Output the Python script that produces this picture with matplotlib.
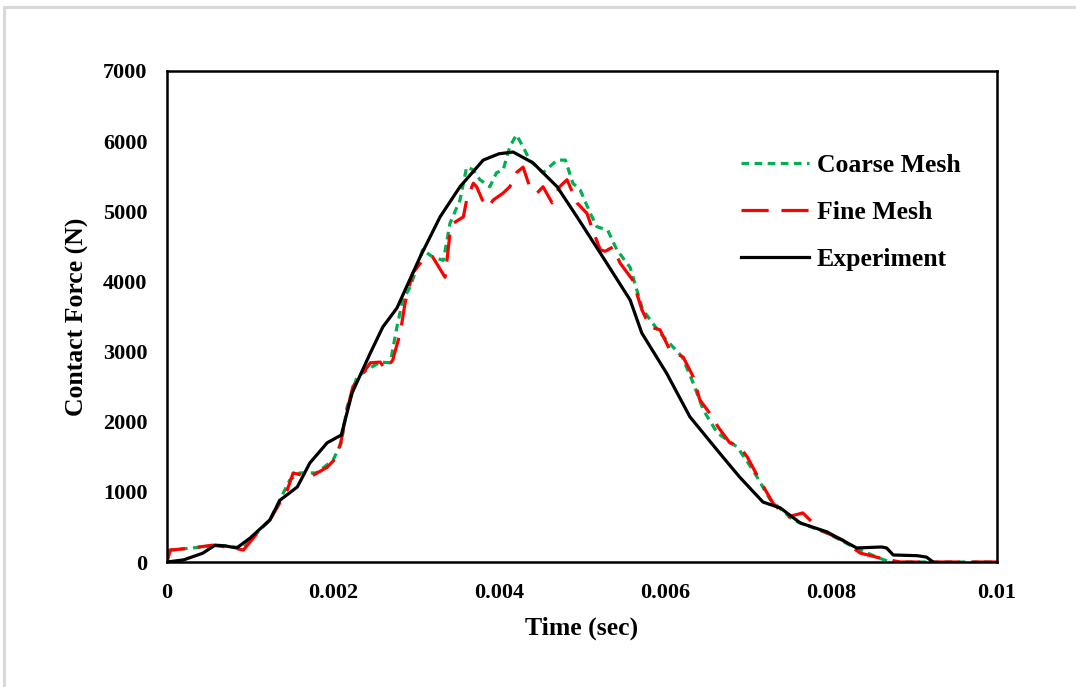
import matplotlib
matplotlib.use("Agg")
import matplotlib.pyplot as plt
from matplotlib.lines import Line2D
import numpy as np

# time in ms (scaled to sec below), force in N
exp_t = [0, 0.2, 0.43, 0.58, 0.7, 0.84, 1.0, 1.24, 1.36, 1.57, 1.72, 1.93, 2.1, 2.23, 2.45, 2.6,
         2.77, 3.05, 3.29, 3.53, 3.81, 4.0, 4.17, 4.41, 4.70, 4.94, 5.25, 5.58, 5.72, 6.02, 6.30,
         6.66, 6.90, 7.18, 7.39, 7.63, 7.95, 8.31, 8.61, 8.67, 8.75, 9.04, 9.15, 9.23]
exp_f = [0, 30, 125, 240, 230, 200, 340, 600, 880, 1070, 1410, 1700, 1810, 2410, 2980, 3350,
         3620, 4350, 4920, 5350, 5730, 5820, 5845, 5690, 5350, 4920, 4350, 3735, 3265, 2690, 2070,
         1550, 1210, 855, 770, 556, 430, 200, 214, 200, 100, 90, 70, 0]

coarse_t = [0, 0.04, 0.31, 0.6, 0.92, 1.04, 1.24, 1.48, 1.60, 1.80, 2.0, 2.1, 2.17, 2.29, 2.41,
            2.57, 2.69, 2.77, 2.84, 2.93, 3.08, 3.2, 3.33, 3.41, 3.53, 3.61, 3.69, 3.77, 3.89,
            3.97, 4.05, 4.13, 4.21, 4.29, 4.37, 4.53, 4.70, 4.80, 4.89, 4.98, 5.10, 5.18, 5.31,
            5.42, 5.58, 5.73, 5.94, 6.21, 6.34, 6.46, 6.63, 6.87, 7.06, 7.27, 7.54, 7.95, 8.27,
            8.55, 8.71, 10.0]
coarse_f = [160, 170, 200, 240, 200, 360, 600, 1170, 1270, 1270, 1450, 1700, 2210, 2640, 2740,
            2850, 2840, 3350, 3735, 3920, 4450, 4350, 4300, 4830, 5160, 5630, 5590, 5450, 5350,
            5550, 5590, 5920, 6090, 5920, 5730, 5550, 5730, 5730, 5400, 5300, 4970, 4780, 4730,
            4450, 4200, 3600, 3265, 2920, 2550, 2170, 1840, 1640, 1310, 885, 600, 413, 214,
            71, 0, 0]

fine_t = [0, 0.04, 0.3, 0.55, 0.8, 0.92, 1.12, 1.24, 1.45, 1.52, 1.72, 1.93, 2.05, 2.1, 2.15,
          2.24, 2.33, 2.45, 2.57, 2.63, 2.72, 2.81, 2.87, 2.96, 3.08, 3.2, 3.35, 3.41, 3.45,
          3.57, 3.61, 3.69, 3.73, 3.8, 3.87, 3.93, 4.05, 4.13, 4.21, 4.29, 4.37, 4.46, 4.53,
          4.64, 4.73, 4.82, 4.94, 5.06, 5.13, 5.22, 5.28, 5.37, 5.46, 5.61, 5.72, 5.82, 5.94,
          6.06, 6.22, 6.34, 6.42, 6.54, 6.64, 6.78, 6.90, 6.99, 7.14, 7.30, 7.47, 7.66, 7.87,
          8.14, 8.35, 8.59, 8.83, 10.0]
fine_f = [0, 170, 200, 240, 200, 170, 456, 600, 1030, 1270, 1210, 1350, 1500, 1740, 2070,
          2500, 2640, 2840, 2850, 2740, 2880, 3265, 3700, 4120, 4300, 4350, 4060, 4690, 4830,
          4920, 5160, 5400, 5350, 5160, 5060, 5160, 5260, 5350, 5550, 5630, 5350, 5260, 5350,
          5120, 5350, 5450, 5120, 4970, 4730, 4450, 4430, 4490, 4260, 4020, 3600, 3350, 3310,
          3020, 2920, 2640, 2310, 2120, 1925, 1700, 1640, 1500, 1170, 840, 640, 700, 456,
          314, 128, 57, 0, 0]

W, H = 1076, 687
fig = plt.figure(figsize=(W / 100, H / 100), dpi=100)
fig.patch.set_facecolor("white")

# light grey frame of the cropped screenshot (left and top only)
fig.add_artist(Line2D([4 / W, 4 / W], [0, 1 - 7 / H], color="#d9d9d9", lw=2.2, transform=fig.transFigure))
fig.add_artist(Line2D([4 / W, 1], [1 - 7 / H, 1 - 7 / H], color="#d9d9d9", lw=2.2, transform=fig.transFigure))

ax = fig.add_axes([167 / W, 1 - 562 / H, (997 - 167) / W, (562 - 71) / H])

font = "Liberation Serif"
lw = 2.3
ax.plot(np.array(coarse_t) * 1e-3, coarse_f, color="#00b050", lw=lw, dashes=(2.4, 1.7), label="Coarse Mesh")
ax.plot(np.array(fine_t) * 1e-3, fine_f, color="#ff0000", lw=lw, dashes=(8.5, 4), label="Fine Mesh")
ax.plot(np.array(exp_t) * 1e-3, exp_f, color="black", lw=lw, label="Experiment")

ax.set_xlim(0, 0.01)
ax.set_ylim(0, 7000)
ax.set_xticks([0, 0.002, 0.004, 0.006, 0.008, 0.01])
ax.set_xticklabels(["0", "0.002", "0.004", "0.006", "0.008", "0.01"])
ax.set_yticks(range(0, 7001, 1000))
ax.tick_params(axis="y", length=0, pad=14, labelsize=16)
ax.tick_params(axis="x", length=0, pad=15, labelsize=16)
for lab in ax.get_xticklabels() + ax.get_yticklabels():
    lab.set_fontfamily(font)
    lab.set_fontweight("bold")
for s in ax.spines.values():
    s.set_linewidth(1.8)

ax.set_xlabel("Time (sec)", fontsize=18.5, fontweight="bold", family=font, labelpad=10)
ax.set_ylabel("Contact Force (N)", fontsize=18.5, fontweight="bold", family=font, labelpad=10)

leg = ax.legend(loc="upper left", bbox_to_anchor=(0.664, 0.878), frameon=False, handlelength=2.65,
                handletextpad=0.3, labelspacing=0.93, prop={"family": font, "weight": "bold", "size": 18.5})

fig.savefig("out.png", dpi=100)
